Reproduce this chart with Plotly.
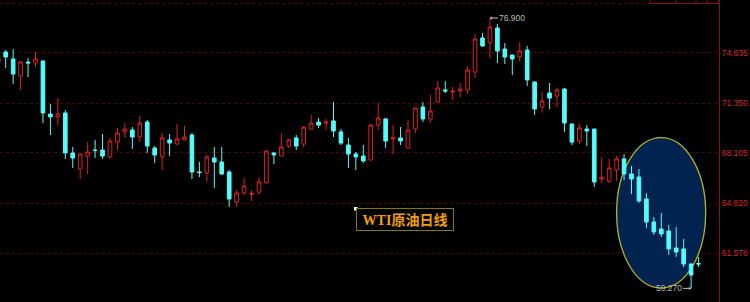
import plotly.graph_objects as go

# ---- data (WTI daily candles) ----
day = list(range(95))
opens = [74.03, 74.68, 74.23, 73.12, 74.03, 73.97, 74.10, 70.64, 70.45, 70.71,
         68.10, 67.05, 67.90, 68.29, 68.29, 67.84, 68.81, 69.47, 69.60, 69.14,
         70.12, 68.42, 67.84, 68.95, 68.68, 68.95, 69.27, 66.86, 66.79, 67.77,
         67.51, 66.86, 64.90, 65.49, 65.40, 65.55, 66.14, 68.10, 67.90, 68.55,
         69.08, 68.68, 69.66, 70.12, 70.05, 70.19, 69.47, 68.62, 68.03, 67.90,
         67.64, 69.92, 70.32, 69.01, 69.08, 68.42, 69.66, 71.10, 70.32, 71.42,
         72.21, 72.08, 72.14, 72.21, 73.38, 75.60, 75.27, 76.25, 74.88, 74.49,
         74.36, 74.81, 72.73, 71.10, 72.01, 71.81, 72.27, 69.99, 68.88, 69.66,
         69.66, 66.40, 66.27, 66.99, 67.71, 66.73, 66.53, 65.10, 63.60, 63.14,
         63.01, 61.90, 61.84, 60.86, 60.89]
highs = [74.42, 74.81, 74.88, 74.10, 74.29, 74.68, 74.12, 71.29, 71.68, 70.90,
         68.49, 68.05, 68.81, 68.95, 69.34, 69.08, 69.73, 70.05, 69.79, 70.51,
         70.25, 68.55, 69.40, 69.34, 69.99, 69.86, 69.40, 67.51, 67.97, 68.49,
         68.49, 66.99, 65.69, 66.47, 65.69, 66.53, 68.25, 68.16, 69.40, 69.01,
         69.27, 69.86, 70.58, 70.38, 70.32, 71.42, 69.66, 69.08, 68.16, 68.62,
         69.99, 71.36, 70.38, 69.92, 69.79, 70.25, 71.05, 71.42, 71.88, 72.79,
         72.79, 72.40, 72.66, 73.77, 75.86, 75.92, 76.90, 76.51, 75.27, 74.50,
         75.34, 75.08, 72.75, 72.08, 72.66, 72.34, 72.34, 70.00, 69.99, 69.92,
         69.68, 67.84, 67.71, 67.90, 68.03, 67.25, 67.05, 65.49, 63.92, 64.19,
         63.40, 63.27, 62.49, 60.88, 61.32]
lows = [73.90, 73.64, 72.60, 72.21, 73.05, 73.71, 70.05, 69.27, 69.92, 67.71,
        67.12, 66.40, 66.73, 67.77, 67.71, 67.71, 68.29, 69.08, 68.36, 68.81,
        68.10, 67.45, 66.99, 67.90, 68.66, 68.93, 66.40, 66.53, 66.21, 65.82,
        66.66, 64.58, 64.58, 65.36, 64.97, 65.36, 66.12, 67.38, 67.88, 68.42,
        68.29, 68.49, 69.64, 69.73, 69.60, 69.14, 68.62, 67.12, 66.99, 67.45,
        67.62, 69.60, 68.42, 68.03, 68.62, 68.40, 69.40, 70.12, 70.05, 71.40,
        72.01, 71.55, 71.75, 71.95, 72.99, 75.01, 74.29, 73.97, 73.90, 73.18,
        74.03, 72.47, 70.58, 70.71, 70.97, 71.10, 69.47, 68.62, 68.68, 68.55,
        65.88, 66.14, 66.14, 66.27, 66.34, 65.42, 64.84, 63.21, 62.75, 62.62,
        61.45, 61.32, 60.66, 59.27, 60.66]
closes = [74.29, 74.36, 73.25, 74.03, 73.97, 74.23, 70.71, 70.45, 70.64, 68.10,
          67.77, 68.03, 68.16, 68.26, 67.90, 68.88, 69.40, 69.66, 69.14, 70.05,
          68.55, 67.97, 69.08, 68.75, 69.01, 69.14, 66.86, 66.83, 67.84, 67.51,
          66.73, 65.10, 65.49, 65.95, 65.46, 66.21, 68.23, 67.97, 68.49, 68.95,
          68.55, 69.79, 70.05, 69.92, 70.12, 69.53, 68.75, 68.03, 67.84, 67.58,
          69.92, 70.38, 68.88, 69.08, 68.88, 69.60, 71.03, 70.32, 70.84, 72.34,
          72.14, 72.14, 72.27, 73.51, 75.53, 75.08, 76.31, 74.75, 74.36, 74.23,
          74.75, 72.86, 70.97, 71.49, 71.68, 72.21, 70.05, 68.81, 69.73, 69.53,
          66.21, 66.53, 67.12, 67.71, 66.73, 66.40, 64.97, 63.60, 62.95, 62.82,
          61.84, 61.64, 60.86, 60.14, 60.86]

price_ticks = [77.879, 74.635, 71.350, 68.105, 64.820, 61.576]
price_tick_text = ["77.879", "74.635", "71.350", "68.105", "64.820", "61.576"]

high_day, high_price, high_label = 66, 76.900, "76.900"
low_day, low_price, low_label = 93, 59.270, "59.270"
title_text = "WTI原油日线"

RED = "#d82424"
CYAN = "#54FCFC"

fig = go.Figure()
fig.add_trace(go.Candlestick(
    x=day, open=opens, high=highs, low=lows, close=closes,
    increasing=dict(line=dict(color=RED, width=1), fillcolor="#000000"),
    decreasing=dict(line=dict(color=CYAN, width=1), fillcolor=CYAN),
    whiskerwidth=0, showlegend=False, hoverinfo="skip",
))

# highlight ellipse (between grid and candles)
fig.add_shape(type="circle", xref="x", yref="y",
              x0=83.0, x1=94.96, y0=59.29, y1=69.1,
              fillcolor="#02224f", line=dict(color="#b4b41e", width=1.3),
              layer="between")

# header box fragments at top right
fig.add_shape(type="rect", xref="paper", yref="paper",
              x0=650/719, x1=1.0, y0=1 - 3.5/302, y1=1.05,
              line=dict(color="#8c1010", width=1), fillcolor="rgba(0,0,0,0)", layer="above")
for xd in (676, 696, 707):
    fig.add_shape(type="line", xref="paper", yref="paper",
                  x0=xd/719, x1=xd/719, y0=1 - 3.5/302, y1=1.05,
                  line=dict(color="#8c1010", width=1), layer="above")

# white marker at label box corner
fig.add_shape(type="rect", xref="paper", yref="paper",
              x0=354/719, x1=357.5/719, y0=1 - 210.5/302, y1=1 - 207/302,
              fillcolor="#ffffff", line=dict(width=0), layer="above")

label_font = dict(family="Liberation Sans, Arial, sans-serif", size=8.5, color="#b8b8b8")
fig.add_annotation(x=high_day, y=high_price, xref="x", yref="y",
                   text=high_label, showarrow=True, ax=8, ay=0,
                   arrowhead=1, arrowsize=0.6, arrowwidth=1, arrowcolor="#c8c8c8",
                   font=label_font, xanchor="left", borderpad=0)
fig.add_annotation(x=low_day, y=low_price, xref="x", yref="y",
                   text=low_label, showarrow=True, ax=-8, ay=0,
                   arrowhead=1, arrowsize=0.6, arrowwidth=1, arrowcolor="#c8c8c8",
                   font=label_font, xanchor="right", borderpad=0)

fig.add_annotation(x=405/719, y=1 - 219.5/302, xref="paper", yref="paper",
                   text="<b>" + title_text + "</b>", showarrow=False,
                   xanchor="center", yanchor="middle",
                   width=94, height=19, borderpad=1, borderwidth=1,
                   bordercolor="#7c7c06", bgcolor="#000000",
                   font=dict(family="Liberation Serif, Noto Sans CJK SC, serif",
                             size=14, color="#f0a000"))

fig.update_layout(
    width=750, height=302,
    margin=dict(l=0, r=31, t=0, b=0),
    paper_bgcolor="#000000", plot_bgcolor="#000000",
    template="none",
    showlegend=False,
    xaxis=dict(range=[0.235, 96.745], visible=False, showgrid=False,
               zeroline=False, rangeslider=dict(visible=False)),
    yaxis=dict(range=[58.381, 78.075], side="right",
               tickmode="array", tickvals=price_ticks, ticktext=price_tick_text,
               showgrid=True, gridcolor="#4e0808", griddash="dot", gridwidth=1,
               zeroline=False, showline=True, linecolor="#8c1010", linewidth=1,
               ticks="", tickfont=dict(family="Liberation Sans, Arial, sans-serif",
                                       size=8.5, color="#d42a2a")),
)

fig.write_html("out.html")
